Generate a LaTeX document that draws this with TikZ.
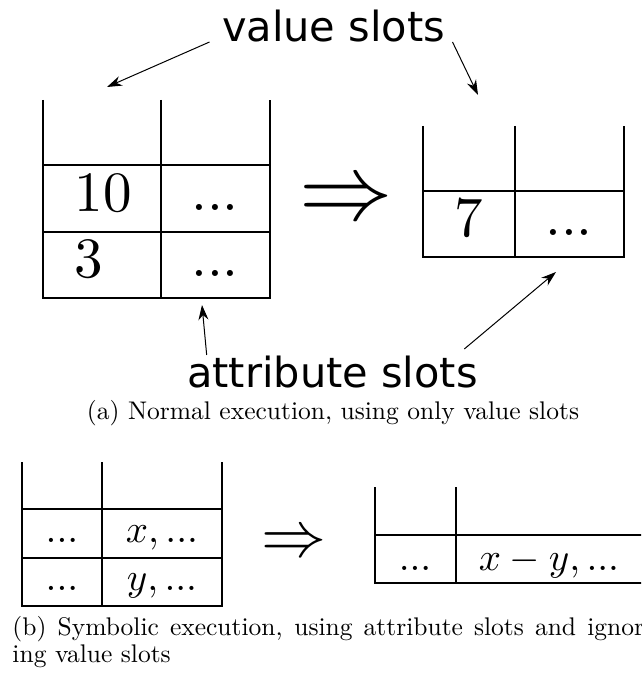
\documentclass[tikz,border=0pt]{standalone}
\usepackage{fontspec}
\newfontfamily\slotfont{DejaVu Sans}
\usetikzlibrary{arrows.meta}

\begin{document}
\begin{tikzpicture}[x=0.4pt,y=-0.4pt,
 tabline/.style={line width=0.8pt},
 thintab/.style={line width=0.6pt},
 pointer/.style={-{Stealth[length=6pt,width=4pt]},line width=0.4pt},
 bigcell/.style={anchor=base,font=\normalsize,scale=2.28},
 smallcell/.style={anchor=base,font=\normalsize,scale=1.56},
 slotlabel/.style={anchor=base,inner sep=0pt,font=\slotfont\fontsize{16.6}{20}\selectfont}]
 \clip (0,0) rectangle (641,678);
 % (a) normal execution
 \draw[tabline] (43,100)--(43,298)--(270,298)--(270,100);
 \draw[tabline] (161,100)--(161,298);
 \foreach \y in {165,232} \draw[tabline] (43,\y)--(270,\y);
 \draw[tabline] (423,126)--(423,257)--(624,257)--(624,126);
 \draw[tabline] (515,126)--(515,257) (423,191)--(624,191);
 \node[bigcell] (ten) at (103,212) {$10$};
 \node[bigcell] (tendots) at (215,211) {$...$};
 \node[bigcell] (three) at (89,278) {$3$};
 \node[bigcell] (threedots) at (215,277) {$...$};
 \node[bigcell] (seven) at (469,237) {$7$};
 \node[bigcell] (sevendots) at (569,236) {$...$};
 \node[anchor=base,font=\normalsize,scale=3.74] (stepA) at (346.5,220) {$\Rightarrow$};
 \node[slotlabel] (vallbl) at (333.5,42) {value slots};
 \node[slotlabel] (attrlbl) at (332.5,387) {attribute slots};
 \coordinate (valtipL) at (107,87);
 \coordinate (valtipR) at (478,95);
 \coordinate (attrtipL) at (202,305);
 \coordinate (attrtipR) at (556,272);
 \draw[pointer] ([xshift=-4.8pt]vallbl.base west) -- (valtipL);
 \draw[pointer] ([xshift=2.8pt]vallbl.base east) -- (valtipR);
 \draw[pointer] ([xshift=8pt]attrlbl.north west) -- (attrtipL);
 \draw[pointer] ([xshift=-5.6pt,yshift=2.4pt]attrlbl.north east) -- (attrtipR);
 \node[anchor=base,font=\fontsize{10.2}{10.8}\selectfont] (capA) at (333,419)
  {(a) Normal execution, using only value slots};
 % (b) symbolic execution
 \draw[thintab] (22,462)--(22,606)--(222,606)--(222,462);
 \draw[thintab] (102,462)--(102,606);
 \foreach \y in {509,558} \draw[thintab] (22,\y)--(222,\y);
 \draw[thintab] (375,487)--(375,583)--(650,583);
 \draw[thintab] (456,487)--(456,583) (375,535)--(650,535);
 \node[smallcell] (xdots) at (62,542) {$...$};
 \node[smallcell] (xattr) at (162,542) {$x, ...$};
 \node[smallcell] (ydots) at (62,590) {$...$};
 \node[smallcell] (yattr) at (162,590) {$y, ...$};
 \node[smallcell] (diffdots) at (415,570) {$...$};
 \node[smallcell] (diffattr) at (549,570) {$x - y, ...$};
 \node[anchor=base,font=\normalsize,scale=2.6] (stepB) at (294,556) {$\Rightarrow$};
 \node[anchor=north west,inner sep=0pt,text width=256pt,align=justify,font=\fontsize{10.2}{10.8}\selectfont]
  (capB) at (12,616)
  {(b) Symbolic execution, using attribute slots and ignor-\linebreak ing value slots};
\end{tikzpicture}
\end{document}
